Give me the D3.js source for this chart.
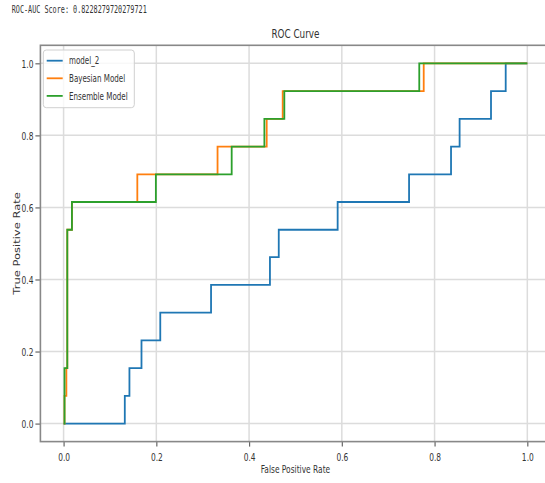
<!DOCTYPE html>
<html>
<head>
<meta charset="UTF-8">
<title>ROC Curve</title>
<script src="https://cdn.jsdelivr.net/npm/d3@7"></script>
<style>
    body { margin: 0; background: #fff; }
    text { font-family: "DejaVu Sans", sans-serif; fill: #333; }
</style>
</head>
<body>
<script>
    // values
    const seriesNames = ["model_2", "Bayesian Model", "Ensemble Model"];
    const seriesColors = ["#1f77b4", "#ff7f0e", "#2ca02c"];

    const model2Fpr = [0, 0.132, 0.132, 0.142, 0.142, 0.168, 0.168, 0.2085, 0.2085, 0.318, 0.318, 0.445, 0.445, 0.464, 0.464, 0.591, 0.591, 0.745, 0.745, 0.8355, 0.8355, 0.854, 0.854, 0.9217, 0.9217, 0.9534, 0.9534, 1];
    const model2Tpr = [0, 0, 0.077, 0.077, 0.154, 0.154, 0.231, 0.231, 0.308, 0.308, 0.385, 0.385, 0.462, 0.462, 0.538, 0.538, 0.615, 0.615, 0.692, 0.692, 0.769, 0.769, 0.846, 0.846, 0.923, 0.923, 1, 1];

    const bayesFpr = [0, 0.002, 0.002, 0.006, 0.006, 0.008, 0.008, 0.018, 0.018, 0.159, 0.159, 0.332, 0.332, 0.438, 0.438, 0.4725, 0.4725, 0.7766, 0.7766, 1];
    const bayesTpr = [0, 0, 0.077, 0.077, 0.154, 0.154, 0.538, 0.538, 0.615, 0.615, 0.692, 0.692, 0.769, 0.769, 0.846, 0.846, 0.923, 0.923, 1, 1];

    const ensembleFpr = [0, 0.002, 0.002, 0.008, 0.008, 0.018, 0.018, 0.199, 0.199, 0.3625, 0.3625, 0.433, 0.433, 0.476, 0.476, 0.767, 0.767, 1];
    const ensembleTpr = [0, 0, 0.154, 0.154, 0.538, 0.538, 0.615, 0.615, 0.692, 0.692, 0.769, 0.769, 0.846, 0.846, 0.923, 0.923, 1, 1];

    const xTicks = [0, 0.2, 0.4, 0.6, 0.8, 1.0];
    const yTicks = [0, 0.2, 0.4, 0.6, 0.8, 1.0];
    const aucText = "ROC-AUC Score: 0.8228279720279721";

    const width = 545;
    const height = 483;
    const margin = { left: 40.4, top: 45.3, right: 550.5, bottom: 441.6 };
    const sx = 0.68; // the picture is squeezed sideways

    const series = [
        { fpr: model2Fpr, tpr: model2Tpr },
        { fpr: bayesFpr, tpr: bayesTpr },
        { fpr: ensembleFpr, tpr: ensembleTpr }
    ];

    const svg = d3.select('body')
        .append('svg')
        .attr('width', width)
        .attr('height', height)
        .style('background', '#fff');

    const x = d3.scaleLinear().domain([-0.05, 1.05]).range([margin.left, margin.right]);
    const y = d3.scaleLinear().domain([-0.05, 1.05]).range([margin.bottom, margin.top]);

    const place = (sel, px, py) => sel.attr('transform', `translate(${px},${py}) scale(${sx},1)`);

    // grid
    const grid = svg.append('g').attr('stroke', '#dcdcdc').attr('stroke-width', 1.5);
    grid.selectAll('.gx').data(xTicks).join('line')
        .attr('x1', d => x(d)).attr('x2', d => x(d))
        .attr('y1', margin.top).attr('y2', margin.bottom);
    grid.selectAll('.gy').data(yTicks).join('line')
        .attr('y1', d => y(d)).attr('y2', d => y(d))
        .attr('x1', margin.left).attr('x2', margin.right);

    // curves
    const line = d3.line().x(d => x(d[0])).y(d => y(d[1]));
    svg.append('g')
        .attr('fill', 'none')
        .attr('stroke-width', 1.8)
        .selectAll('path')
        .data(series)
        .join('path')
        .attr('stroke', (d, i) => seriesColors[i])
        .attr('d', d => line(d.fpr.map((f, i) => [f, d.tpr[i]])));

    // axes
    const xAxis = svg.append('g')
        .attr('transform', `translate(0,${margin.bottom})`)
        .call(d3.axisBottom(x).tickValues(xTicks).tickFormat(d3.format('.1f')).tickSize(5).tickSizeOuter(0));
    const yAxis = svg.append('g')
        .attr('transform', `translate(${margin.left},0)`)
        .call(d3.axisLeft(y).tickValues(yTicks).tickFormat(d3.format('.1f')).tickSize(5).tickSizeOuter(0));

    [xAxis, yAxis].forEach(a => {
        a.select('.domain').remove();
        a.selectAll('.tick line').attr('stroke', '#666').attr('stroke-width', 1.2);
        a.selectAll('.tick text').attr('fill', '#333').style('font-size', '11px').style('font-family', '"DejaVu Sans", sans-serif');
    });
    xAxis.selectAll('.tick text').attr('y', 0).attr('dy', 0).attr('transform', `translate(0,19.5) scale(${sx},1)`);
    yAxis.selectAll('.tick text').attr('x', 0).attr('dy', '0.35em').attr('transform', `translate(-7,0) scale(${sx},1)`);

    // frame
    svg.append('rect')
        .attr('x', margin.left).attr('y', margin.top)
        .attr('width', margin.right - margin.left).attr('height', margin.bottom - margin.top)
        .attr('fill', 'none').attr('stroke', '#888').attr('stroke-width', 1.6);

    // texts
    svg.append('text').text(aucText)
        .style('font-family', '"DejaVu Sans Mono", monospace').style('font-size', '10px')
        .attr('fill', '#555')
        .call(place, 11.7, 13.3);

    svg.append('text').text('ROC Curve')
        .attr('text-anchor', 'middle').style('font-size', '13px')
        .call(place, x(0.5), 38);

    svg.append('text').text('False Positive Rate')
        .attr('text-anchor', 'middle').style('font-size', '11px')
        .call(place, x(0.5), 473);

    svg.append('text').text('True Positive Rate')
        .attr('text-anchor', 'middle').style('font-size', '11.5px')
        .attr('transform', `translate(19.5,${y(0.5)}) scale(${sx},1) rotate(-90)`);

    // legend
    const legend = svg.append('g');
    legend.append('rect')
        .attr('x', 43.3).attr('y', 50).attr('width', 91).attr('height', 57.7)
        .attr('rx', 3)
        .attr('fill', '#fff').attr('fill-opacity', 0.8)
        .attr('stroke', '#d0d0d0').attr('stroke-width', 1);
    const item = legend.selectAll('.item').data(seriesNames).join('g')
        .attr('transform', (d, i) => `translate(0,${60.7 + i * 17.6})`);
    item.append('line')
        .attr('x1', 46.7).attr('x2', 62.7)
        .attr('stroke', (d, i) => seriesColors[i]).attr('stroke-width', 1.8);
    item.append('text').text(d => d)
        .style('font-size', '10.5px')
        .attr('dy', '0.35em')
        .attr('transform', `translate(69,0) scale(${sx},1)`);
</script>
</body>
</html>
